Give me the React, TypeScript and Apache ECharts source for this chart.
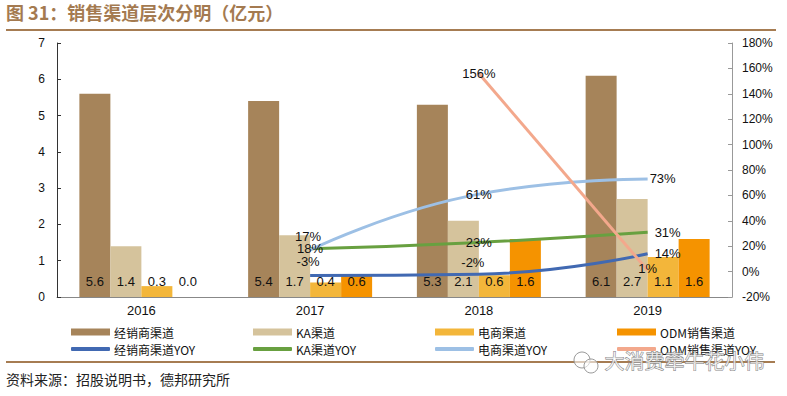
import React, { useEffect, useRef } from "react";
import * as echarts from "echarts";

const years = ["2016", "2017", "2018", "2019"];
const dealer = [5.6, 5.4, 5.3, 6.1];
const ka = [1.4, 1.7, 2.1, 2.7];
const ecom = [0.3, 0.4, 0.6, 1.1];
const odm = [0.0, 0.6, 1.6, 1.6];
const dealerYoy = [null, -3, -2, 14];
const kaYoy = [null, 18, 23, 31];
const ecomYoy = [null, 17, 61, 73];
const odmYoy = [null, null, 156, 1];

const barNames = ["经销商渠道", "KA渠道", "电商渠道", "ODM销售渠道"];
const lineNames = ["经销商渠道YOY", "KA渠道YOY", "电商渠道YOY", "ODM销售渠道YOY"];
const barColors = ["#A6845A", "#D5C39C", "#F3B63A", "#F59300"];
const lineColors = ["#4169B2", "#68A040", "#9DC0E5", "#F3A88C"];

// label positions for line points (per series, per category)
const linePos: any[][] = [
  [null, "top", "top", "right"],
  [null, "inside", "inside", "right"],
  [null, "top", "inside", "right"],
  [null, null, "inside", "inside"],
];
const lineOffsets: any[][] = [
  [null, [-2, 0], [-6, 2], [0, 0]],
  [null, [0, 0], [0, 0], [0, 0]],
  [null, [-2, 0], [0, 0], [-5, 0]],
  [null, null, [0, 0], [0, -2]],
];

export default function App() {
  const ref = useRef<HTMLDivElement>(null);
  useEffect(() => {
    if (!ref.current) return;
    const chart = echarts.init(ref.current, null, { renderer: "svg" });
    const barData = [dealer, ka, ecom, odm];
    const lineData = [dealerYoy, kaYoy, ecomYoy, odmYoy];
    const font = "'Liberation Sans', Arial, 'Noto Sans CJK SC', sans-serif";

    const series: any[] = [];
    barData.forEach((d, i) => {
      series.push({
        name: barNames[i],
        type: "bar",
        yAxisIndex: 0,
        data: d,
        barWidth: 31,
        barGap: "0%",
        itemStyle: { color: barColors[i] },
        label: {
          show: true,
          position: "insideBottom",
          distance: 9,
          color: "#111",
          fontSize: 13,
          fontFamily: font,
          formatter: (p: any) => Number(p.value).toFixed(1),
        },
        z: 2,
      });
    });
    lineData.forEach((d, i) => {
      series.push({
        name: lineNames[i],
        type: "line",
        yAxisIndex: 1,
        smooth: 0.5,
        symbol: "circle",
        symbolSize: 0,
        showSymbol: true,
        itemStyle: { color: lineColors[i] },
        lineStyle: { color: lineColors[i], width: 3 },
        data: d.map((v, j) =>
          v === null
            ? null
            : {
                value: v,
                label: {
                  show: true,
                  position: linePos[i][j],
                  offset: lineOffsets[i][j],
                  distance: 7,
                  color: "#111",
                  fontSize: 13,
                  fontFamily: font,
                  formatter: (p: any) => p.value + "%",
                },
              }
        ),
        z: 5,
      });
    });

    const legendCols = [66, 248, 430, 612];
    const legends: any[] = [];
    barNames.forEach((n, i) => {
      legends.push({
        data: [n],
        left: legendCols[i],
        top: 321,
        icon: "rect",
        itemWidth: 39,
        itemHeight: 7,
        itemGap: 0,
        selectedMode: false,
        textStyle: { fontSize: 12, color: "#111", fontFamily: "'Noto Sans CJK SC', sans-serif", padding: [0, 0, 0, -1] },
      });
    });
    lineNames.forEach((n, i) => {
      legends.push({
        data: [n],
        left: legendCols[i],
        top: 338,
        icon: "roundRect",
        itemWidth: 39,
        itemHeight: 4,
        itemGap: 0,
        selectedMode: false,
        textStyle: { fontSize: 12, color: "#111", fontFamily: "'Noto Sans CJK SC', sans-serif", padding: [0, 0, 0, -1] },
      });
    });

    chart.setOption({
      animation: false,
      textStyle: { fontFamily: font },
      grid: { left: 57, right: 55, top: 43, bottom: 99 },
      legend: legends,
      xAxis: {
        type: "category",
        data: years,
        axisLine: { lineStyle: { color: "#888", width: 1 } },
        axisTick: { inside: true, length: 5, lineStyle: { color: "#666" } },
        axisLabel: { fontSize: 13, color: "#111", margin: 7 },
      },
      yAxis: [
        {
          type: "value",
          min: 0,
          max: 7,
          interval: 1,
          splitLine: { show: false },
          axisLine: { show: true, lineStyle: { color: "#333" } },
          axisTick: { show: true, inside: true, length: 4, lineStyle: { color: "#333" } },
          axisLabel: { fontSize: 12, color: "#111", margin: 12 },
        },
        {
          type: "value",
          min: -20,
          max: 180,
          interval: 20,
          splitLine: { show: false },
          axisLine: { show: true, lineStyle: { color: "#999" } },
          axisTick: { show: true, inside: true, length: 4, lineStyle: { color: "#999" } },
          axisLabel: { fontSize: 12, color: "#111", margin: 10, formatter: "{value}%" },
        },
      ],
      series,
      graphic: [
        {
          type: "text",
          left: 6,
          top: 3,
          style: {
            text: "图 31：销售渠道层次分明（亿元）",
            fill: "#A47A50",
            font: "bold 18px 'Noto Sans CJK SC', sans-serif",
          },
        },
        {
          type: "rect",
          shape: { x: 6, y: 29, width: 770, height: 2 },
          style: { fill: "#A67C52" },
        },
        {
          type: "rect",
          shape: { x: 6, y: 361, width: 769, height: 2 },
          style: { fill: "#A67C52" },
        },
        {
          type: "text",
          left: 6,
          top: 372,
          style: {
            text: "资料来源：招股说明书，德邦研究所",
            fill: "#222",
            font: "14px 'Noto Sans CJK SC', sans-serif",
          },
        },
        {
          type: "circle",
          shape: { cx: 582, cy: 360, r: 8 },
          style: { fill: "rgba(255,255,255,0.6)", stroke: "#999", lineWidth: 1 },
          z: 20,
        },
        {
          type: "circle",
          shape: { cx: 591, cy: 366, r: 7 },
          style: { fill: "rgba(255,255,255,0.6)", stroke: "#999", lineWidth: 1 },
          z: 20,
        },
        {
          type: "text",
          left: 604,
          top: 350,
          z: 21,
          style: {
            text: "大消费牵牛花小伟",
            fill: "rgba(255,255,255,0.7)",
            stroke: "#777",
            lineWidth: 0.8,
            font: "20px 'Noto Sans CJK SC', sans-serif",
          },
        },
      ],
    });
    return () => chart.dispose();
  }, []);
  return (
    <div
      ref={ref}
      style={{ position: "fixed", left: 0, top: 0, width: 787, height: 396, background: "#fff" }}
    />
  );
}
